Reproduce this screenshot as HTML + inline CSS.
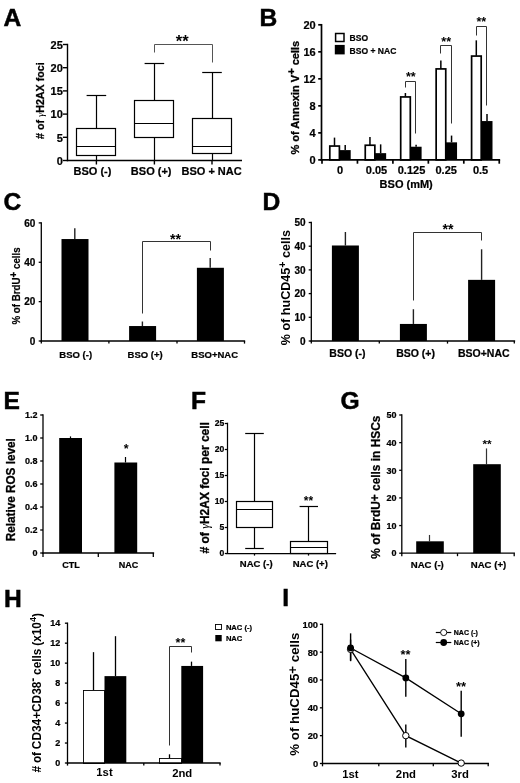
<!DOCTYPE html>
<html lang="en">
<head>
<meta charset="utf-8">
<title>Figure</title>
<style>
html,body{margin:0;padding:0;background:#fff;}
body{width:520px;height:783px;overflow:hidden;}
svg{display:block;font-family:"Liberation Sans", Arial, sans-serif;fill:#000;}
</style>
</head>
<body>
<svg width="520" height="783" viewBox="0 0 520 783">
<rect x="0" y="0" width="520" height="783" fill="#fff"/>
<text x="3.5" y="25.7" font-size="24.6" text-anchor="start" font-weight="bold" stroke="#000" stroke-width="0.5">A</text>
<line x1="96.5" y1="95.54" x2="96.5" y2="128.02" stroke="#000" stroke-width="1.2" stroke-linecap="butt"/>
<line x1="96.5" y1="155.86" x2="96.5" y2="160.5" stroke="#000" stroke-width="1.2" stroke-linecap="butt"/>
<line x1="86.6" y1="95.5" x2="106.2" y2="95.5" stroke="#000" stroke-width="1.2" stroke-linecap="butt"/>
<rect x="76.5" y="128.5" width="39" height="27" fill="#fff" stroke="#000" stroke-width="1.2"/>
<line x1="76.9" y1="146.5" x2="115.9" y2="146.5" stroke="#000" stroke-width="1.2" stroke-linecap="butt"/>
<line x1="154.5" y1="63.06" x2="154.5" y2="100.18" stroke="#000" stroke-width="1.2" stroke-linecap="butt"/>
<line x1="154.5" y1="137.3" x2="154.5" y2="160.5" stroke="#000" stroke-width="1.2" stroke-linecap="butt"/>
<line x1="144.6" y1="63.5" x2="164.2" y2="63.5" stroke="#000" stroke-width="1.2" stroke-linecap="butt"/>
<rect x="134.5" y="100.5" width="39" height="37" fill="#fff" stroke="#000" stroke-width="1.2"/>
<line x1="134.9" y1="123.5" x2="173.9" y2="123.5" stroke="#000" stroke-width="1.2" stroke-linecap="butt"/>
<line x1="212.5" y1="72.34" x2="212.5" y2="118.74" stroke="#000" stroke-width="1.2" stroke-linecap="butt"/>
<line x1="212.5" y1="153.54" x2="212.5" y2="160.5" stroke="#000" stroke-width="1.2" stroke-linecap="butt"/>
<line x1="202.2" y1="72.5" x2="221.8" y2="72.5" stroke="#000" stroke-width="1.2" stroke-linecap="butt"/>
<rect x="192.5" y="118.5" width="39" height="35" fill="#fff" stroke="#000" stroke-width="1.2"/>
<line x1="192.5" y1="146.5" x2="231.5" y2="146.5" stroke="#000" stroke-width="1.2" stroke-linecap="butt"/>
<line x1="67.5" y1="43.8" x2="67.5" y2="161.2" stroke="#000" stroke-width="1.4" stroke-linecap="butt"/>
<line x1="62.9" y1="160.5" x2="67.5" y2="160.5" stroke="#000" stroke-width="1.4" stroke-linecap="butt"/>
<text x="62.8" y="164.8" font-size="11" text-anchor="end" font-weight="bold"  stroke="#000" stroke-width="0.22">0</text>
<line x1="62.9" y1="137.3" x2="67.5" y2="137.3" stroke="#000" stroke-width="1.4" stroke-linecap="butt"/>
<text x="62.8" y="141.6" font-size="11" text-anchor="end" font-weight="bold"  stroke="#000" stroke-width="0.22">5</text>
<line x1="62.9" y1="114.1" x2="67.5" y2="114.1" stroke="#000" stroke-width="1.4" stroke-linecap="butt"/>
<text x="62.8" y="118.4" font-size="11" text-anchor="end" font-weight="bold"  stroke="#000" stroke-width="0.22">10</text>
<line x1="62.9" y1="90.9" x2="67.5" y2="90.9" stroke="#000" stroke-width="1.4" stroke-linecap="butt"/>
<text x="62.8" y="95.2" font-size="11" text-anchor="end" font-weight="bold"  stroke="#000" stroke-width="0.22">15</text>
<line x1="62.9" y1="67.7" x2="67.5" y2="67.7" stroke="#000" stroke-width="1.4" stroke-linecap="butt"/>
<text x="62.8" y="72" font-size="11" text-anchor="end" font-weight="bold"  stroke="#000" stroke-width="0.22">20</text>
<line x1="62.9" y1="44.5" x2="67.5" y2="44.5" stroke="#000" stroke-width="1.4" stroke-linecap="butt"/>
<text x="62.8" y="48.8" font-size="11" text-anchor="end" font-weight="bold"  stroke="#000" stroke-width="0.22">25</text>
<line x1="66.8" y1="160.5" x2="242" y2="160.5" stroke="#000" stroke-width="1.4" stroke-linecap="butt"/>
<line x1="96.4" y1="160.5" x2="96.4" y2="164.5" stroke="#000" stroke-width="1.4" stroke-linecap="butt"/>
<line x1="154.4" y1="160.5" x2="154.4" y2="164.5" stroke="#000" stroke-width="1.4" stroke-linecap="butt"/>
<line x1="212" y1="160.5" x2="212" y2="164.5" stroke="#000" stroke-width="1.4" stroke-linecap="butt"/>
<text x="92.5" y="175.4" font-size="11" text-anchor="middle" font-weight="bold"  stroke="#000" stroke-width="0.22">BSO (-)</text>
<text x="151.2" y="175.4" font-size="11" text-anchor="middle" font-weight="bold"  stroke="#000" stroke-width="0.22">BSO (+)</text>
<text x="211.6" y="175.4" font-size="11" text-anchor="middle" font-weight="bold"  stroke="#000" stroke-width="0.22">BSO + NAC</text>
<text transform="translate(44 139) rotate(-90)" font-size="10.7" text-anchor="start" font-weight="bold"  stroke="#000" stroke-width="0.25"># of <tspan font-weight="normal" font-style="italic" font-family="Liberation Serif, serif" stroke="none">&#947;</tspan>H2AX foci</text>
<polyline points="154.5,52.5 154.5,44.5 212.5,44.5 212.5,62.5" fill="none" stroke="#555" stroke-width="1"/>
<text x="182.2" y="47.35" font-size="16.5" text-anchor="middle" font-weight="bold" >**</text>
<text x="259.5" y="25.7" font-size="24.6" text-anchor="start" font-weight="bold" stroke="#000" stroke-width="0.5">B</text>
<line x1="334.5" y1="137.61" x2="334.5" y2="145.85" stroke="#000" stroke-width="1.5" stroke-linecap="butt"/>
<line x1="345.2" y1="145.04" x2="345.2" y2="150.11" stroke="#000" stroke-width="1.5" stroke-linecap="butt"/>
<rect x="329.8" y="146.05" width="9.6" height="13.85" fill="#fff" stroke="#000" stroke-width="1.7"/>
<rect x="339.5" y="150.11" width="11.2" height="9.79" fill="#000" stroke="none" stroke-width="1"/>
<line x1="369.95" y1="136.93" x2="369.95" y2="145.04" stroke="#000" stroke-width="1.5" stroke-linecap="butt"/>
<line x1="380.65" y1="144.36" x2="380.65" y2="153.15" stroke="#000" stroke-width="1.5" stroke-linecap="butt"/>
<rect x="365.25" y="145.24" width="9.6" height="14.66" fill="#fff" stroke="#000" stroke-width="1.7"/>
<rect x="374.95" y="153.15" width="11.2" height="6.75" fill="#000" stroke="none" stroke-width="1"/>
<line x1="405.4" y1="93.03" x2="405.4" y2="96.74" stroke="#000" stroke-width="1.5" stroke-linecap="butt"/>
<line x1="416.1" y1="144.7" x2="416.1" y2="146.73" stroke="#000" stroke-width="1.5" stroke-linecap="butt"/>
<rect x="400.7" y="96.94" width="9.6" height="62.96" fill="#fff" stroke="#000" stroke-width="1.7"/>
<rect x="410.4" y="146.73" width="11.2" height="13.17" fill="#000" stroke="none" stroke-width="1"/>
<line x1="440.85" y1="60.6" x2="440.85" y2="68.71" stroke="#000" stroke-width="1.5" stroke-linecap="butt"/>
<line x1="451.55" y1="135.58" x2="451.55" y2="142.34" stroke="#000" stroke-width="1.5" stroke-linecap="butt"/>
<rect x="436.15" y="68.91" width="9.6" height="90.99" fill="#fff" stroke="#000" stroke-width="1.7"/>
<rect x="445.85" y="142.34" width="11.2" height="17.56" fill="#000" stroke="none" stroke-width="1"/>
<line x1="476.3" y1="40.34" x2="476.3" y2="55.87" stroke="#000" stroke-width="1.5" stroke-linecap="butt"/>
<line x1="487" y1="113.97" x2="487" y2="121.06" stroke="#000" stroke-width="1.5" stroke-linecap="butt"/>
<rect x="471.6" y="56.07" width="9.6" height="103.83" fill="#fff" stroke="#000" stroke-width="1.7"/>
<rect x="481.3" y="121.06" width="11.2" height="38.84" fill="#000" stroke="none" stroke-width="1"/>
<line x1="321.5" y1="23.95" x2="321.5" y2="160.75" stroke="#000" stroke-width="1.7" stroke-linecap="butt"/>
<line x1="318.2" y1="159.9" x2="321.5" y2="159.9" stroke="#000" stroke-width="1.7" stroke-linecap="butt"/>
<text x="315.7" y="163.86" font-size="11" text-anchor="end" font-weight="bold"  stroke="#000" stroke-width="0.22">0</text>
<line x1="318.2" y1="132.88" x2="321.5" y2="132.88" stroke="#000" stroke-width="1.7" stroke-linecap="butt"/>
<text x="315.7" y="136.84" font-size="11" text-anchor="end" font-weight="bold"  stroke="#000" stroke-width="0.22">4</text>
<line x1="318.2" y1="105.86" x2="321.5" y2="105.86" stroke="#000" stroke-width="1.7" stroke-linecap="butt"/>
<text x="315.7" y="109.82" font-size="11" text-anchor="end" font-weight="bold"  stroke="#000" stroke-width="0.22">8</text>
<line x1="318.2" y1="78.84" x2="321.5" y2="78.84" stroke="#000" stroke-width="1.7" stroke-linecap="butt"/>
<text x="315.7" y="82.8" font-size="11" text-anchor="end" font-weight="bold"  stroke="#000" stroke-width="0.22">12</text>
<line x1="318.2" y1="51.82" x2="321.5" y2="51.82" stroke="#000" stroke-width="1.7" stroke-linecap="butt"/>
<text x="315.7" y="55.78" font-size="11" text-anchor="end" font-weight="bold"  stroke="#000" stroke-width="0.22">16</text>
<line x1="318.2" y1="24.8" x2="321.5" y2="24.8" stroke="#000" stroke-width="1.7" stroke-linecap="butt"/>
<text x="315.7" y="28.76" font-size="11" text-anchor="end" font-weight="bold"  stroke="#000" stroke-width="0.22">20</text>
<line x1="320.65" y1="159.9" x2="500.15" y2="159.9" stroke="#000" stroke-width="1.7" stroke-linecap="butt"/>
<line x1="322" y1="159.9" x2="322" y2="163.7" stroke="#000" stroke-width="1.7" stroke-linecap="butt"/>
<line x1="357.45" y1="159.9" x2="357.45" y2="163.7" stroke="#000" stroke-width="1.7" stroke-linecap="butt"/>
<line x1="392.9" y1="159.9" x2="392.9" y2="163.7" stroke="#000" stroke-width="1.7" stroke-linecap="butt"/>
<line x1="428.35" y1="159.9" x2="428.35" y2="163.7" stroke="#000" stroke-width="1.7" stroke-linecap="butt"/>
<line x1="463.8" y1="159.9" x2="463.8" y2="163.7" stroke="#000" stroke-width="1.7" stroke-linecap="butt"/>
<line x1="499.25" y1="159.9" x2="499.25" y2="163.7" stroke="#000" stroke-width="1.7" stroke-linecap="butt"/>
<text x="340" y="174.2" font-size="11" text-anchor="middle" font-weight="bold"  stroke="#000" stroke-width="0.22">0</text>
<text x="376.5" y="174.2" font-size="11" text-anchor="middle" font-weight="bold"  stroke="#000" stroke-width="0.22">0.05</text>
<text x="411.5" y="174.2" font-size="11" text-anchor="middle" font-weight="bold"  stroke="#000" stroke-width="0.22">0.125</text>
<text x="446.2" y="174.2" font-size="11" text-anchor="middle" font-weight="bold"  stroke="#000" stroke-width="0.22">0.25</text>
<text x="480.6" y="174.2" font-size="11" text-anchor="middle" font-weight="bold"  stroke="#000" stroke-width="0.22">0.5</text>
<text x="406.2" y="188" font-size="11" text-anchor="middle" font-weight="bold"  stroke="#000" stroke-width="0.22">BSO (mM)</text>
<text transform="translate(298.5 154.5) rotate(-90)" font-size="11" text-anchor="start" font-weight="bold"  stroke="#000" stroke-width="0.3">% of Annexin V<tspan font-size="11" dy="-3.5">+</tspan><tspan dy="3.5"> cells</tspan></text>
<rect x="335.6" y="33.5" width="8.4" height="8" fill="#fff" stroke="#000" stroke-width="1.5"/>
<rect x="334.8" y="44.9" width="9.9" height="9.5" fill="#000" stroke="none" stroke-width="1"/>
<text transform="translate(349.5 41) scale(0.94 1)" font-size="9.1" text-anchor="start" font-weight="bold"  stroke="#000" stroke-width="0.22">BSO</text>
<text transform="translate(349.5 53.5) scale(0.94 1)" font-size="9.1" text-anchor="start" font-weight="bold"  stroke="#000" stroke-width="0.22">BSO + NAC</text>
<polyline points="405.5,87.5 405.5,81.5 415.5,81.5 415.5,133.5" fill="none" stroke="#333" stroke-width="1"/>
<text x="410.8" y="81.15" font-size="12.6" text-anchor="middle" font-weight="bold" >**</text>
<polyline points="440.5,53.5 440.5,45.5 451.5,45.5 451.5,123.5" fill="none" stroke="#333" stroke-width="1"/>
<text x="446.2" y="45.55" font-size="12.6" text-anchor="middle" font-weight="bold" >**</text>
<polyline points="476.5,35.5 476.5,26.5 486.5,26.5 486.5,105.5" fill="none" stroke="#333" stroke-width="1"/>
<text x="481.3" y="26.05" font-size="12.6" text-anchor="middle" font-weight="bold" >**</text>
<text x="3.5" y="209.5" font-size="24.6" text-anchor="start" font-weight="bold" stroke="#000" stroke-width="0.5">C</text>
<line x1="74.8" y1="228.21" x2="74.8" y2="239.04" stroke="#222" stroke-width="1.4" stroke-linecap="butt"/>
<rect x="61.5" y="239.04" width="27" height="101.96" fill="#000" stroke="none" stroke-width="1"/>
<line x1="142.4" y1="321.51" x2="142.4" y2="326.04" stroke="#222" stroke-width="1.4" stroke-linecap="butt"/>
<rect x="129.1" y="326.04" width="27" height="14.96" fill="#000" stroke="none" stroke-width="1"/>
<line x1="210.2" y1="257.94" x2="210.2" y2="267.78" stroke="#222" stroke-width="1.4" stroke-linecap="butt"/>
<rect x="196.9" y="267.78" width="27" height="73.22" fill="#000" stroke="none" stroke-width="1"/>
<line x1="41.3" y1="222.25" x2="41.3" y2="341.65" stroke="#000" stroke-width="1.3" stroke-linecap="butt"/>
<line x1="38.7" y1="341" x2="41.3" y2="341" stroke="#000" stroke-width="1.3" stroke-linecap="butt"/>
<text x="35.3" y="344.6" font-size="10" text-anchor="end" font-weight="bold"  stroke="#000" stroke-width="0.22">0</text>
<line x1="38.7" y1="301.63" x2="41.3" y2="301.63" stroke="#000" stroke-width="1.3" stroke-linecap="butt"/>
<text x="35.3" y="305.23" font-size="10" text-anchor="end" font-weight="bold"  stroke="#000" stroke-width="0.22">20</text>
<line x1="38.7" y1="262.27" x2="41.3" y2="262.27" stroke="#000" stroke-width="1.3" stroke-linecap="butt"/>
<text x="35.3" y="265.87" font-size="10" text-anchor="end" font-weight="bold"  stroke="#000" stroke-width="0.22">40</text>
<line x1="38.7" y1="222.9" x2="41.3" y2="222.9" stroke="#000" stroke-width="1.3" stroke-linecap="butt"/>
<text x="35.3" y="226.5" font-size="10" text-anchor="end" font-weight="bold"  stroke="#000" stroke-width="0.22">60</text>
<line x1="40.65" y1="341" x2="245.15" y2="341" stroke="#000" stroke-width="1.3" stroke-linecap="butt"/>
<line x1="41.3" y1="341" x2="41.3" y2="343.6" stroke="#000" stroke-width="1.3" stroke-linecap="butt"/>
<line x1="108.9" y1="341" x2="108.9" y2="343.6" stroke="#000" stroke-width="1.3" stroke-linecap="butt"/>
<line x1="177" y1="341" x2="177" y2="343.6" stroke="#000" stroke-width="1.3" stroke-linecap="butt"/>
<line x1="244.5" y1="341" x2="244.5" y2="343.6" stroke="#000" stroke-width="1.3" stroke-linecap="butt"/>
<text x="75.7" y="357.8" font-size="9.5" text-anchor="middle" font-weight="bold"  stroke="#000" stroke-width="0.22">BSO (-)</text>
<text x="145.1" y="357.8" font-size="9.5" text-anchor="middle" font-weight="bold"  stroke="#000" stroke-width="0.22">BSO (+)</text>
<text x="214.7" y="357.8" font-size="9.5" text-anchor="middle" font-weight="bold"  stroke="#000" stroke-width="0.22">BSO+NAC</text>
<text transform="translate(20 324.5) rotate(-90) scale(0.92 1)" font-size="10.6" text-anchor="start" font-weight="bold"  stroke="#000" stroke-width="0.2">% of BrdU<tspan font-size="10.6" dy="-3.3">+</tspan><tspan dy="3.3"> cells</tspan></text>
<polyline points="142.5,313.5 142.5,241.5 210.5,241.5 210.5,250.5" fill="none" stroke="#333" stroke-width="1"/>
<text x="175.5" y="243.61" font-size="14.3" text-anchor="middle" font-weight="bold" >**</text>
<text x="262.5" y="209.5" font-size="24.6" text-anchor="start" font-weight="bold" stroke="#000" stroke-width="0.5">D</text>
<line x1="345.4" y1="231.98" x2="345.4" y2="245.49" stroke="#222" stroke-width="1.4" stroke-linecap="butt"/>
<rect x="331.9" y="245.49" width="27" height="95.51" fill="#000" stroke="none" stroke-width="1"/>
<line x1="413.4" y1="309.24" x2="413.4" y2="323.94" stroke="#222" stroke-width="1.4" stroke-linecap="butt"/>
<rect x="399.9" y="323.94" width="27" height="17.06" fill="#000" stroke="none" stroke-width="1"/>
<line x1="481.6" y1="249.28" x2="481.6" y2="279.85" stroke="#222" stroke-width="1.4" stroke-linecap="butt"/>
<rect x="468.1" y="279.85" width="27" height="61.15" fill="#000" stroke="none" stroke-width="1"/>
<line x1="311.3" y1="221.85" x2="311.3" y2="341.65" stroke="#000" stroke-width="1.3" stroke-linecap="butt"/>
<line x1="308.7" y1="341" x2="311.3" y2="341" stroke="#000" stroke-width="1.3" stroke-linecap="butt"/>
<text x="305.5" y="344.6" font-size="10" text-anchor="end" font-weight="bold"  stroke="#000" stroke-width="0.22">0</text>
<line x1="308.7" y1="317.3" x2="311.3" y2="317.3" stroke="#000" stroke-width="1.3" stroke-linecap="butt"/>
<text x="305.5" y="320.9" font-size="10" text-anchor="end" font-weight="bold"  stroke="#000" stroke-width="0.22">10</text>
<line x1="308.7" y1="293.6" x2="311.3" y2="293.6" stroke="#000" stroke-width="1.3" stroke-linecap="butt"/>
<text x="305.5" y="297.2" font-size="10" text-anchor="end" font-weight="bold"  stroke="#000" stroke-width="0.22">20</text>
<line x1="308.7" y1="269.9" x2="311.3" y2="269.9" stroke="#000" stroke-width="1.3" stroke-linecap="butt"/>
<text x="305.5" y="273.5" font-size="10" text-anchor="end" font-weight="bold"  stroke="#000" stroke-width="0.22">30</text>
<line x1="308.7" y1="246.2" x2="311.3" y2="246.2" stroke="#000" stroke-width="1.3" stroke-linecap="butt"/>
<text x="305.5" y="249.8" font-size="10" text-anchor="end" font-weight="bold"  stroke="#000" stroke-width="0.22">40</text>
<line x1="308.7" y1="222.5" x2="311.3" y2="222.5" stroke="#000" stroke-width="1.3" stroke-linecap="butt"/>
<text x="305.5" y="226.1" font-size="10" text-anchor="end" font-weight="bold"  stroke="#000" stroke-width="0.22">50</text>
<line x1="310.65" y1="341" x2="515.15" y2="341" stroke="#000" stroke-width="1.3" stroke-linecap="butt"/>
<line x1="311.3" y1="341" x2="311.3" y2="343.6" stroke="#000" stroke-width="1.3" stroke-linecap="butt"/>
<line x1="379.3" y1="341" x2="379.3" y2="343.6" stroke="#000" stroke-width="1.3" stroke-linecap="butt"/>
<line x1="447.5" y1="341" x2="447.5" y2="343.6" stroke="#000" stroke-width="1.3" stroke-linecap="butt"/>
<line x1="514.3" y1="341" x2="514.3" y2="343.6" stroke="#000" stroke-width="1.3" stroke-linecap="butt"/>
<text x="347.4" y="356.8" font-size="10.5" text-anchor="middle" font-weight="bold"  stroke="#000" stroke-width="0.22">BSO (-)</text>
<text x="415.6" y="356.8" font-size="10.5" text-anchor="middle" font-weight="bold"  stroke="#000" stroke-width="0.22">BSO (+)</text>
<text x="483.8" y="356.8" font-size="10.5" text-anchor="middle" font-weight="bold"  stroke="#000" stroke-width="0.22">BSO+NAC</text>
<text transform="translate(290 345.3) rotate(-90)" font-size="12.6" text-anchor="start" font-weight="bold" >% of huCD45<tspan font-size="10.5" dy="-3.6">+</tspan><tspan dy="3.6"> cells</tspan></text>
<polyline points="413.5,300.5 413.5,232.5 481.5,232.5 481.5,240.5" fill="none" stroke="#333" stroke-width="1"/>
<text x="448.1" y="234.17" font-size="14.2" text-anchor="middle" font-weight="bold" >**</text>
<text x="3.5" y="409.3" font-size="24.6" text-anchor="start" font-weight="bold" stroke="#000" stroke-width="0.5">E</text>
<line x1="70.5" y1="436.39" x2="70.5" y2="438" stroke="#000" stroke-width="1.2" stroke-linecap="butt"/>
<rect x="59.2" y="438" width="22.8" height="115" fill="#000" stroke="none" stroke-width="1"/>
<line x1="125.5" y1="456.98" x2="125.5" y2="462.5" stroke="#000" stroke-width="1.2" stroke-linecap="butt"/>
<rect x="114.4" y="462.5" width="22.8" height="90.5" fill="#000" stroke="none" stroke-width="1"/>
<line x1="43" y1="414.35" x2="43" y2="553.65" stroke="#000" stroke-width="1.3" stroke-linecap="butt"/>
<line x1="40.2" y1="553" x2="43" y2="553" stroke="#000" stroke-width="1.3" stroke-linecap="butt"/>
<text x="37.4" y="556.24" font-size="9" text-anchor="end" font-weight="bold"  stroke="#000" stroke-width="0.22">0</text>
<line x1="40.2" y1="530" x2="43" y2="530" stroke="#000" stroke-width="1.3" stroke-linecap="butt"/>
<text x="37.4" y="533.24" font-size="9" text-anchor="end" font-weight="bold"  stroke="#000" stroke-width="0.22">0.2</text>
<line x1="40.2" y1="507" x2="43" y2="507" stroke="#000" stroke-width="1.3" stroke-linecap="butt"/>
<text x="37.4" y="510.24" font-size="9" text-anchor="end" font-weight="bold"  stroke="#000" stroke-width="0.22">0.4</text>
<line x1="40.2" y1="484" x2="43" y2="484" stroke="#000" stroke-width="1.3" stroke-linecap="butt"/>
<text x="37.4" y="487.24" font-size="9" text-anchor="end" font-weight="bold"  stroke="#000" stroke-width="0.22">0.6</text>
<line x1="40.2" y1="461" x2="43" y2="461" stroke="#000" stroke-width="1.3" stroke-linecap="butt"/>
<text x="37.4" y="464.24" font-size="9" text-anchor="end" font-weight="bold"  stroke="#000" stroke-width="0.22">0.8</text>
<line x1="40.2" y1="438" x2="43" y2="438" stroke="#000" stroke-width="1.3" stroke-linecap="butt"/>
<text x="37.4" y="441.24" font-size="9" text-anchor="end" font-weight="bold"  stroke="#000" stroke-width="0.22">1.0</text>
<line x1="40.2" y1="415" x2="43" y2="415" stroke="#000" stroke-width="1.3" stroke-linecap="butt"/>
<text x="37.4" y="418.24" font-size="9" text-anchor="end" font-weight="bold"  stroke="#000" stroke-width="0.22">1.2</text>
<line x1="42.35" y1="553" x2="154.15" y2="553" stroke="#000" stroke-width="1.3" stroke-linecap="butt"/>
<line x1="43" y1="553" x2="43" y2="557" stroke="#000" stroke-width="1.3" stroke-linecap="butt"/>
<line x1="98.3" y1="553" x2="98.3" y2="557" stroke="#000" stroke-width="1.3" stroke-linecap="butt"/>
<line x1="153.3" y1="553" x2="153.3" y2="557" stroke="#000" stroke-width="1.3" stroke-linecap="butt"/>
<text x="71" y="568" font-size="9" text-anchor="middle" font-weight="bold"  stroke="#000" stroke-width="0.22">CTL</text>
<text x="128.5" y="568" font-size="9" text-anchor="middle" font-weight="bold"  stroke="#000" stroke-width="0.22">NAC</text>
<text transform="translate(14.5 541.3) rotate(-90) scale(0.94 1)" font-size="12.5" text-anchor="start" font-weight="bold"  stroke="#000" stroke-width="0.3">Relative ROS level</text>
<text x="126.2" y="453.11" font-size="12.5" text-anchor="middle" font-weight="bold" >*</text>
<text x="191" y="408.8" font-size="24.6" text-anchor="start" font-weight="bold" stroke="#000" stroke-width="0.5">F</text>
<line x1="254.5" y1="433.69" x2="254.5" y2="501.24" stroke="#000" stroke-width="1.2" stroke-linecap="butt"/>
<line x1="254.5" y1="527.22" x2="254.5" y2="548" stroke="#000" stroke-width="1.2" stroke-linecap="butt"/>
<line x1="245.2" y1="433.5" x2="263.8" y2="433.5" stroke="#000" stroke-width="1.2" stroke-linecap="butt"/>
<line x1="245.2" y1="548.5" x2="263.8" y2="548.5" stroke="#000" stroke-width="1.2" stroke-linecap="butt"/>
<rect x="236.5" y="501.5" width="36" height="26" fill="#fff" stroke="#000" stroke-width="1.2"/>
<line x1="236.4" y1="509.5" x2="272.6" y2="509.5" stroke="#000" stroke-width="1.2" stroke-linecap="butt"/>
<line x1="308.5" y1="506.44" x2="308.5" y2="541.25" stroke="#000" stroke-width="1.2" stroke-linecap="butt"/>
<line x1="308.5" y1="553.5" x2="308.5" y2="553.5" stroke="#000" stroke-width="1.2" stroke-linecap="butt"/>
<line x1="299.6" y1="506.5" x2="318" y2="506.5" stroke="#000" stroke-width="1.2" stroke-linecap="butt"/>
<rect x="290.5" y="541.5" width="37" height="12" fill="#fff" stroke="#000" stroke-width="1.2"/>
<line x1="290.6" y1="547.5" x2="327" y2="547.5" stroke="#000" stroke-width="1.2" stroke-linecap="butt"/>
<line x1="227.5" y1="422.68" x2="227.5" y2="553.83" stroke="#000" stroke-width="1.25" stroke-linecap="butt"/>
<line x1="224.8" y1="553.5" x2="227" y2="553.5" stroke="#000" stroke-width="1.25" stroke-linecap="butt"/>
<text x="224.2" y="556.3" font-size="8.6" text-anchor="end" font-weight="bold"  stroke="#000" stroke-width="0.22">0</text>
<line x1="224.8" y1="527.5" x2="227" y2="527.5" stroke="#000" stroke-width="1.25" stroke-linecap="butt"/>
<text x="224.2" y="530.32" font-size="8.6" text-anchor="end" font-weight="bold"  stroke="#000" stroke-width="0.22">5</text>
<line x1="224.8" y1="501.5" x2="227" y2="501.5" stroke="#000" stroke-width="1.25" stroke-linecap="butt"/>
<text x="224.2" y="504.34" font-size="8.6" text-anchor="end" font-weight="bold"  stroke="#000" stroke-width="0.22">10</text>
<line x1="224.8" y1="475.5" x2="227" y2="475.5" stroke="#000" stroke-width="1.25" stroke-linecap="butt"/>
<text x="224.2" y="478.36" font-size="8.6" text-anchor="end" font-weight="bold"  stroke="#000" stroke-width="0.22">15</text>
<line x1="224.8" y1="449.5" x2="227" y2="449.5" stroke="#000" stroke-width="1.25" stroke-linecap="butt"/>
<text x="224.2" y="452.38" font-size="8.6" text-anchor="end" font-weight="bold"  stroke="#000" stroke-width="0.22">20</text>
<line x1="224.8" y1="423.5" x2="227" y2="423.5" stroke="#000" stroke-width="1.25" stroke-linecap="butt"/>
<text x="224.2" y="426.4" font-size="8.6" text-anchor="end" font-weight="bold"  stroke="#000" stroke-width="0.22">25</text>
<line x1="226.38" y1="553.5" x2="336.12" y2="553.5" stroke="#000" stroke-width="1.25" stroke-linecap="butt"/>
<line x1="254.5" y1="553.2" x2="254.5" y2="555.6" stroke="#000" stroke-width="1.25" stroke-linecap="butt"/>
<line x1="308.5" y1="553.2" x2="308.5" y2="555.6" stroke="#000" stroke-width="1.25" stroke-linecap="butt"/>
<text x="256.2" y="566.8" font-size="9.5" text-anchor="middle" font-weight="bold"  stroke="#000" stroke-width="0.22">NAC (-)</text>
<text x="310.3" y="566.8" font-size="9.5" text-anchor="middle" font-weight="bold"  stroke="#000" stroke-width="0.22">NAC (+)</text>
<text transform="translate(208.5 553.5) rotate(-90)" font-size="12" text-anchor="start" font-weight="bold"  stroke="#000" stroke-width="0.3"># of <tspan font-weight="normal" font-style="italic" font-family="Liberation Serif, serif" stroke="none">&#947;</tspan>H2AX foci per cell</text>
<text x="308.5" y="505.12" font-size="12" text-anchor="middle" font-weight="bold" >**</text>
<text x="340.5" y="409.3" font-size="24.6" text-anchor="start" font-weight="bold" stroke="#000" stroke-width="0.5">G</text>
<line x1="429.5" y1="534.96" x2="429.5" y2="541.31" stroke="#333" stroke-width="1.2" stroke-linecap="butt"/>
<rect x="416.2" y="541.31" width="27.6" height="11.89" fill="#000" stroke="none" stroke-width="1"/>
<line x1="486.5" y1="448.44" x2="486.5" y2="464.2" stroke="#333" stroke-width="1.2" stroke-linecap="butt"/>
<rect x="473.2" y="464.2" width="27.6" height="89" fill="#000" stroke="none" stroke-width="1"/>
<line x1="401.8" y1="414.35" x2="401.8" y2="553.85" stroke="#000" stroke-width="1.3" stroke-linecap="butt"/>
<line x1="399.2" y1="553.2" x2="401.8" y2="553.2" stroke="#000" stroke-width="1.3" stroke-linecap="butt"/>
<text x="396.4" y="556.44" font-size="9" text-anchor="end" font-weight="bold"  stroke="#000" stroke-width="0.22">0</text>
<line x1="399.2" y1="525.56" x2="401.8" y2="525.56" stroke="#000" stroke-width="1.3" stroke-linecap="butt"/>
<text x="396.4" y="528.8" font-size="9" text-anchor="end" font-weight="bold"  stroke="#000" stroke-width="0.22">10</text>
<line x1="399.2" y1="497.92" x2="401.8" y2="497.92" stroke="#000" stroke-width="1.3" stroke-linecap="butt"/>
<text x="396.4" y="501.16" font-size="9" text-anchor="end" font-weight="bold"  stroke="#000" stroke-width="0.22">20</text>
<line x1="399.2" y1="470.28" x2="401.8" y2="470.28" stroke="#000" stroke-width="1.3" stroke-linecap="butt"/>
<text x="396.4" y="473.52" font-size="9" text-anchor="end" font-weight="bold"  stroke="#000" stroke-width="0.22">30</text>
<line x1="399.2" y1="442.64" x2="401.8" y2="442.64" stroke="#000" stroke-width="1.3" stroke-linecap="butt"/>
<text x="396.4" y="445.88" font-size="9" text-anchor="end" font-weight="bold"  stroke="#000" stroke-width="0.22">40</text>
<line x1="399.2" y1="415" x2="401.8" y2="415" stroke="#000" stroke-width="1.3" stroke-linecap="butt"/>
<text x="396.4" y="418.24" font-size="9" text-anchor="end" font-weight="bold"  stroke="#000" stroke-width="0.22">50</text>
<line x1="401.15" y1="553.2" x2="514.95" y2="553.2" stroke="#000" stroke-width="1.3" stroke-linecap="butt"/>
<line x1="401.8" y1="553.2" x2="401.8" y2="556.2" stroke="#000" stroke-width="1.3" stroke-linecap="butt"/>
<line x1="457.5" y1="553.2" x2="457.5" y2="556.2" stroke="#000" stroke-width="1.3" stroke-linecap="butt"/>
<line x1="514.2" y1="553.2" x2="514.2" y2="556.2" stroke="#000" stroke-width="1.3" stroke-linecap="butt"/>
<text x="427.3" y="567.5" font-size="9.6" text-anchor="middle" font-weight="bold"  stroke="#000" stroke-width="0.22">NAC (-)</text>
<text x="488.5" y="567.5" font-size="9.6" text-anchor="middle" font-weight="bold"  stroke="#000" stroke-width="0.22">NAC (+)</text>
<text transform="translate(380 558.7) rotate(-90)" font-size="11.9" text-anchor="start" font-weight="bold"  stroke="#000" stroke-width="0.25">% of BrdU<tspan font-size="11.9" dy="-1.3">+</tspan><tspan dy="1.3"> cells in HSCs</tspan></text>
<text x="487.1" y="447.84" font-size="11.8" text-anchor="middle" font-weight="bold" >**</text>
<text x="4" y="606.8" font-size="24.6" text-anchor="start" font-weight="bold" stroke="#000" stroke-width="0.5">H</text>
<line x1="93.5" y1="652.16" x2="93.5" y2="690.1" stroke="#000" stroke-width="1.3" stroke-linecap="butt"/>
<line x1="115.5" y1="636.18" x2="115.5" y2="676.12" stroke="#000" stroke-width="1.3" stroke-linecap="butt"/>
<rect x="83.5" y="690.5" width="21" height="73" fill="#fff" stroke="#000" stroke-width="0.9"/>
<rect x="104.5" y="676.12" width="21.8" height="86.88" fill="#000" stroke="none" stroke-width="1"/>
<line x1="169.5" y1="754.31" x2="169.5" y2="758.01" stroke="#000" stroke-width="1.3" stroke-linecap="butt"/>
<line x1="191.5" y1="661.64" x2="191.5" y2="665.94" stroke="#000" stroke-width="1.3" stroke-linecap="butt"/>
<rect x="159.5" y="758.5" width="22" height="5" fill="#fff" stroke="#000" stroke-width="0.9"/>
<rect x="181.3" y="665.94" width="21.8" height="97.06" fill="#000" stroke="none" stroke-width="1"/>
<line x1="67.5" y1="622.55" x2="67.5" y2="763.65" stroke="#000" stroke-width="1.3" stroke-linecap="butt"/>
<line x1="64.9" y1="763" x2="67.5" y2="763" stroke="#000" stroke-width="1.3" stroke-linecap="butt"/>
<text x="60.3" y="766.24" font-size="9" text-anchor="end" font-weight="bold"  stroke="#000" stroke-width="0.22">0</text>
<line x1="64.9" y1="743.03" x2="67.5" y2="743.03" stroke="#000" stroke-width="1.3" stroke-linecap="butt"/>
<text x="60.3" y="746.27" font-size="9" text-anchor="end" font-weight="bold"  stroke="#000" stroke-width="0.22">2</text>
<line x1="64.9" y1="723.06" x2="67.5" y2="723.06" stroke="#000" stroke-width="1.3" stroke-linecap="butt"/>
<text x="60.3" y="726.3" font-size="9" text-anchor="end" font-weight="bold"  stroke="#000" stroke-width="0.22">4</text>
<line x1="64.9" y1="703.09" x2="67.5" y2="703.09" stroke="#000" stroke-width="1.3" stroke-linecap="butt"/>
<text x="60.3" y="706.33" font-size="9" text-anchor="end" font-weight="bold"  stroke="#000" stroke-width="0.22">6</text>
<line x1="64.9" y1="683.11" x2="67.5" y2="683.11" stroke="#000" stroke-width="1.3" stroke-linecap="butt"/>
<text x="60.3" y="686.35" font-size="9" text-anchor="end" font-weight="bold"  stroke="#000" stroke-width="0.22">8</text>
<line x1="64.9" y1="663.14" x2="67.5" y2="663.14" stroke="#000" stroke-width="1.3" stroke-linecap="butt"/>
<text x="60.3" y="666.38" font-size="9" text-anchor="end" font-weight="bold"  stroke="#000" stroke-width="0.22">10</text>
<line x1="64.9" y1="643.17" x2="67.5" y2="643.17" stroke="#000" stroke-width="1.3" stroke-linecap="butt"/>
<text x="60.3" y="646.41" font-size="9" text-anchor="end" font-weight="bold"  stroke="#000" stroke-width="0.22">12</text>
<line x1="64.9" y1="623.2" x2="67.5" y2="623.2" stroke="#000" stroke-width="1.3" stroke-linecap="butt"/>
<text x="60.3" y="626.44" font-size="9" text-anchor="end" font-weight="bold"  stroke="#000" stroke-width="0.22">14</text>
<line x1="66.85" y1="763" x2="220.65" y2="763" stroke="#000" stroke-width="1.3" stroke-linecap="butt"/>
<line x1="67.5" y1="763" x2="67.5" y2="765.6" stroke="#000" stroke-width="1.3" stroke-linecap="butt"/>
<line x1="143.8" y1="763" x2="143.8" y2="765.6" stroke="#000" stroke-width="1.3" stroke-linecap="butt"/>
<line x1="220" y1="763" x2="220" y2="765.6" stroke="#000" stroke-width="1.3" stroke-linecap="butt"/>
<text x="104.5" y="776.2" font-size="11.3" text-anchor="middle" font-weight="bold" >1st</text>
<text x="182.2" y="777.2" font-size="11.3" text-anchor="middle" font-weight="bold" >2nd</text>
<text transform="translate(40.5 772.5) rotate(-90)" font-size="11.85" text-anchor="start" font-weight="bold" word-spacing="-0.5"># of CD34+CD38<tspan font-size="11.85" dy="-3.5">-</tspan><tspan dy="3.5"> cells (x10</tspan><tspan font-size="9" dy="-4.6">4</tspan><tspan dy="4.6">)</tspan></text>
<polyline points="169.5,745.5 169.5,646.5 191.5,646.5 191.5,652.5" fill="none" stroke="#333" stroke-width="1"/>
<text x="180.5" y="647.35" font-size="12.6" text-anchor="middle" font-weight="bold" >**</text>
<rect x="215.5" y="624.5" width="6" height="5" fill="#fff" stroke="#000" stroke-width="0.9"/>
<rect x="215.3" y="635" width="6.4" height="6.3" fill="#000" stroke="none" stroke-width="1"/>
<text x="225.9" y="629.8" font-size="7.6" text-anchor="start" font-weight="bold"  stroke="#000" stroke-width="0.22">NAC (-)</text>
<text x="225.9" y="640.9" font-size="7.6" text-anchor="start" font-weight="bold"  stroke="#000" stroke-width="0.22">NAC</text>
<text x="282.3" y="606.3" font-size="24.6" text-anchor="start" font-weight="bold" stroke="#000" stroke-width="0.5">I</text>
<line x1="322.5" y1="623.65" x2="322.5" y2="764.15" stroke="#000" stroke-width="1.3" stroke-linecap="butt"/>
<line x1="319.9" y1="763.5" x2="322.5" y2="763.5" stroke="#000" stroke-width="1.3" stroke-linecap="butt"/>
<text x="318.1" y="766.88" font-size="9.4" text-anchor="end" font-weight="bold"  stroke="#000" stroke-width="0.22">0</text>
<line x1="319.9" y1="735.66" x2="322.5" y2="735.66" stroke="#000" stroke-width="1.3" stroke-linecap="butt"/>
<text x="318.1" y="739.04" font-size="9.4" text-anchor="end" font-weight="bold"  stroke="#000" stroke-width="0.22">20</text>
<line x1="319.9" y1="707.82" x2="322.5" y2="707.82" stroke="#000" stroke-width="1.3" stroke-linecap="butt"/>
<text x="318.1" y="711.2" font-size="9.4" text-anchor="end" font-weight="bold"  stroke="#000" stroke-width="0.22">40</text>
<line x1="319.9" y1="679.98" x2="322.5" y2="679.98" stroke="#000" stroke-width="1.3" stroke-linecap="butt"/>
<text x="318.1" y="683.36" font-size="9.4" text-anchor="end" font-weight="bold"  stroke="#000" stroke-width="0.22">60</text>
<line x1="319.9" y1="652.14" x2="322.5" y2="652.14" stroke="#000" stroke-width="1.3" stroke-linecap="butt"/>
<text x="318.1" y="655.52" font-size="9.4" text-anchor="end" font-weight="bold"  stroke="#000" stroke-width="0.22">80</text>
<line x1="319.9" y1="624.3" x2="322.5" y2="624.3" stroke="#000" stroke-width="1.3" stroke-linecap="butt"/>
<text x="318.1" y="627.68" font-size="9.4" text-anchor="end" font-weight="bold"  stroke="#000" stroke-width="0.22">100</text>
<line x1="321.85" y1="763.5" x2="488.95" y2="763.5" stroke="#000" stroke-width="1.3" stroke-linecap="butt"/>
<line x1="322.5" y1="763.5" x2="322.5" y2="766.3" stroke="#000" stroke-width="1.3" stroke-linecap="butt"/>
<line x1="378.8" y1="763.5" x2="378.8" y2="766.3" stroke="#000" stroke-width="1.3" stroke-linecap="butt"/>
<line x1="433.3" y1="763.5" x2="433.3" y2="766.3" stroke="#000" stroke-width="1.3" stroke-linecap="butt"/>
<line x1="488.2" y1="763.5" x2="488.2" y2="766.3" stroke="#000" stroke-width="1.3" stroke-linecap="butt"/>
<line x1="350.6" y1="639.61" x2="350.6" y2="660.49" stroke="#000" stroke-width="1.4" stroke-linecap="butt"/>
<line x1="405.8" y1="724.52" x2="405.8" y2="747.49" stroke="#000" stroke-width="1.4" stroke-linecap="butt"/>
<line x1="461.2" y1="763.08" x2="461.2" y2="763.08" stroke="#000" stroke-width="1.4" stroke-linecap="butt"/>
<line x1="350.6" y1="633.35" x2="350.6" y2="661.19" stroke="#000" stroke-width="1.4" stroke-linecap="butt"/>
<line x1="405.8" y1="659.1" x2="405.8" y2="696.68" stroke="#000" stroke-width="1.4" stroke-linecap="butt"/>
<line x1="461.2" y1="690.7" x2="461.2" y2="736.77" stroke="#000" stroke-width="1.4" stroke-linecap="butt"/>
<polyline points="350.6,649.36 405.8,735.66 461.2,763.08" fill="none" stroke="#000" stroke-width="1.3"/>
<polyline points="350.6,647.96 405.8,677.89 461.2,713.81" fill="none" stroke="#000" stroke-width="1.3"/>
<circle cx="350.6" cy="649.36" r="3.2" fill="#fff" stroke="#000" stroke-width="1"/>
<circle cx="405.8" cy="735.66" r="3.2" fill="#fff" stroke="#000" stroke-width="1"/>
<circle cx="461.2" cy="763.08" r="3.2" fill="#fff" stroke="#000" stroke-width="1"/>
<circle cx="350.6" cy="647.96" r="3.4" fill="#000"/>
<circle cx="405.8" cy="677.89" r="3.4" fill="#000"/>
<circle cx="461.2" cy="713.81" r="3.4" fill="#000"/>
<text x="350.3" y="777.5" font-size="11.3" text-anchor="middle" font-weight="bold" >1st</text>
<text x="405.9" y="777.5" font-size="11.3" text-anchor="middle" font-weight="bold" >2nd</text>
<text x="460.1" y="777.5" font-size="11.3" text-anchor="middle" font-weight="bold" >3rd</text>
<text transform="translate(298.5 755.7) rotate(-90)" font-size="13.3" text-anchor="start" font-weight="bold" >% of huCD45<tspan font-size="13.3" dy="-1.5">+</tspan><tspan dy="1.5"> cells</tspan></text>
<text x="405.5" y="658.73" font-size="12.8" text-anchor="middle" font-weight="bold" >**</text>
<text x="461" y="691.21" font-size="13" text-anchor="middle" font-weight="bold" >**</text>
<line x1="435.8" y1="632.5" x2="451.3" y2="632.5" stroke="#000" stroke-width="1.2" stroke-linecap="butt"/>
<circle cx="443.7" cy="632.5" r="3.1" fill="#fff" stroke="#000" stroke-width="0.9"/>
<line x1="435.8" y1="642.5" x2="451.3" y2="642.5" stroke="#000" stroke-width="1.2" stroke-linecap="butt"/>
<circle cx="443.7" cy="642.5" r="3.4" fill="#000"/>
<text x="453.8" y="634.7" font-size="7" text-anchor="start" font-weight="bold"  stroke="#000" stroke-width="0.22">NAC (-)</text>
<text x="453.8" y="644.6" font-size="7" text-anchor="start" font-weight="bold"  stroke="#000" stroke-width="0.22">NAC (+)</text>
</svg>
</body>
</html>
